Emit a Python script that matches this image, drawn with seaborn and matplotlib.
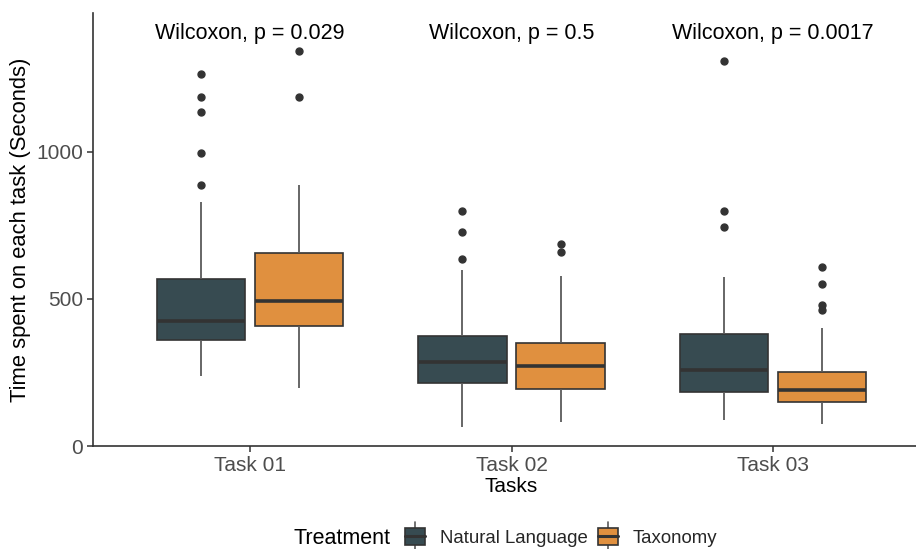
import numpy as np
import pandas as pd
import seaborn as sns
import matplotlib
matplotlib.use("Agg")
import matplotlib.pyplot as plt
from matplotlib.legend_handler import HandlerBase
from matplotlib.patches import Rectangle, Patch
from matplotlib.lines import Line2D

# ---- data: time (seconds) per participant, by task and treatment ----
tasks = ["Task 01", "Task 02", "Task 03"]
treatments = ["Natural Language", "Taxonomy"]

task01_natural = [237, 262, 290, 311, 328, 340, 351, 359, 372, 385, 396, 404, 412, 419,
                  425, 441, 468, 490, 512, 534, 552, 568, 640, 828, 888, 994, 1133, 1187, 1265]
task01_taxonomy = [196, 250, 298, 335, 362, 381, 396, 409, 421, 437, 450, 462, 474, 483,
                   491, 510, 534, 561, 589, 615, 638, 657, 690, 722, 760, 805, 888, 1187, 1342]
task02_natural = [65, 110, 140, 165, 185, 198, 207, 215, 226, 238, 250, 261, 272, 280,
                  286, 297, 310, 322, 337, 350, 362, 372, 405, 450, 520, 599, 635, 727, 797]
task02_taxonomy = [82, 112, 135, 152, 166, 178, 186, 192, 205, 218, 232, 245, 256, 265,
                   272, 282, 293, 305, 318, 330, 341, 350, 378, 410, 455, 512, 579, 659, 685]
task03_natural = [88, 110, 128, 145, 160, 170, 177, 182, 192, 204, 215, 228, 240, 250,
                  258, 272, 290, 310, 330, 350, 368, 380, 420, 470, 530, 574, 745, 797, 1307]
task03_taxonomy = [74, 92, 108, 120, 130, 138, 144, 148, 156, 163, 170, 177, 182, 186,
                   190, 198, 208, 218, 228, 238, 245, 251, 290, 350, 402, 461, 478, 552, 608]

wilcoxon_labels = ["Wilcoxon, p = 0.029", "Wilcoxon, p = 0.5", "Wilcoxon, p = 0.0017"]

groups = {
    ("Task 01", "Natural Language"): task01_natural,
    ("Task 01", "Taxonomy"): task01_taxonomy,
    ("Task 02", "Natural Language"): task02_natural,
    ("Task 02", "Taxonomy"): task02_taxonomy,
    ("Task 03", "Natural Language"): task03_natural,
    ("Task 03", "Taxonomy"): task03_taxonomy,
}
rows = [(t, g, v) for (t, g), vals in groups.items() for v in vals]
df = pd.DataFrame(rows, columns=["Task", "Treatment", "Time"])

palette = {"Natural Language": "#374B51", "Taxonomy": "#E0903F"}
edge = "#333333"

sns.set_theme(style="ticks")
plt.rcParams["font.family"] = ["Liberation Sans", "DejaVu Sans"]

W, H = 916, 549
fig = plt.figure(figsize=(W / 100, H / 100), dpi=100)
left_px, right_px, top_px, bottom_px = 93, 930, 12.7, 446
ax = fig.add_axes([left_px / W, (H - bottom_px) / H,
                   (right_px - left_px) / W, (bottom_px - top_px) / H])

sns.boxplot(
    data=df, x="Task", y="Time", hue="Treatment",
    order=tasks, hue_order=treatments, palette=palette,
    width=0.75, gap=0.1, linewidth=1.2, linecolor=edge,
    showcaps=False, saturation=1, legend=False, ax=ax,
    flierprops=dict(marker="o", markersize=5, markerfacecolor=edge,
                    markeredgecolor=edge),
    whiskerprops=dict(color="#5a5a5a", linewidth=1.3),
    medianprops=dict(color=edge, linewidth=2.6),
)

ax.set_xlim(-0.6, 2.6)
ax.set_ylim(0, 1472)
ax.set_yticks([0, 500, 1000])

for i, lab in enumerate(wilcoxon_labels):
    ax.text(i, 1403, lab, ha="center", va="center", fontsize=15.5, color="black")

for side in ("top", "right"):
    ax.spines[side].set_visible(False)
for side in ("left", "bottom"):
    ax.spines[side].set_color("#333333")
    ax.spines[side].set_linewidth(1.2)

ax.tick_params(axis="both", length=4, width=1.1, color="#333333",
               labelsize=15, labelcolor="#4D4D4D", pad=3)
ax.set_xlabel("Tasks", fontsize=15, color="black", labelpad=2)
ax.set_ylabel("Time spent on each task (Seconds)", fontsize=15.8, color="black", labelpad=4)


class BoxKeyHandler(HandlerBase):
    """Draws a small boxplot glyph as a legend key."""

    def create_artists(self, legend, orig_handle, xdescent, ydescent,
                       width, height, fontsize, trans):
        cx = width / 2 - xdescent
        h = height * 1.25
        y0 = -ydescent + (height - h) / 2
        whisk = Line2D([cx, cx], [y0 - 4, y0 + h + 4], color="#5a5a5a",
                       lw=1.2, transform=trans)
        box = Rectangle((-xdescent, y0), width, h,
                        facecolor=orig_handle.get_facecolor(),
                        edgecolor=edge, lw=1.2, transform=trans)
        med = Line2D([-xdescent, -xdescent + width], [y0 + h / 2, y0 + h / 2],
                     color=edge, lw=2.2, transform=trans)
        return [whisk, box, med]


handles = [Patch(facecolor=palette[t]) for t in treatments]
fig.text(293 / W, (H - 538) / H, "Treatment", fontsize=15.5, color="black",
         ha="left", va="center")
leg = fig.legend(
    handles, treatments, loc="center left",
    bbox_to_anchor=(405 / W, (H - 538) / H),
    ncol=2, frameon=False, fontsize=13.4,
    handler_map={Patch: BoxKeyHandler()},
    handlelength=1.1, handleheight=0.75, handletextpad=0.8,
    columnspacing=0.5, borderpad=0, borderaxespad=0,
)

fig.savefig("out.png", dpi=100)
